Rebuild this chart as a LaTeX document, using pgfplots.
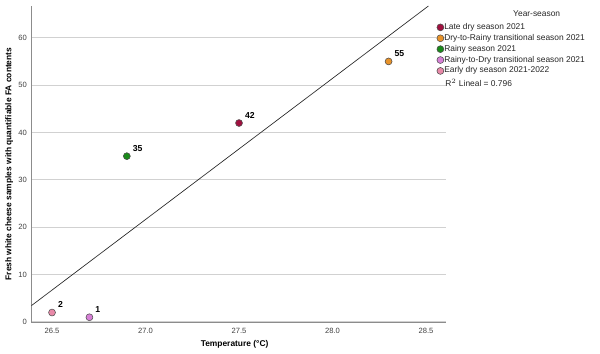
\documentclass[border=0pt]{standalone}
\usepackage{pgfplots}
\pgfplotsset{compat=1.18}
\usepackage{fontspec}
\setmainfont{Liberation Sans}
\definecolor{cLate}{HTML}{A0103F}
\definecolor{cDry}{HTML}{E8932A}
\definecolor{cRainy}{HTML}{1A8A1A}
\definecolor{cRtD}{HTML}{D680D6}
\definecolor{cEarly}{HTML}{E889A8}
\begin{document}
\begin{tikzpicture}
\begin{axis}[
  scale only axis,
  width=310.9pt, height=237pt,
  xmin=26.39, xmax=28.607,
  ymin=0, ymax=66.7,
  xtick={26.5,27.0,27.5,28.0,28.5},
  xticklabels={26.5,27.0,27.5,28.0,28.5},
  ytick={0,10,20,30,40,50,60},
  /pgf/number format/assume math mode=true,
  tick label style={font=\fontsize{5.7}{6}\selectfont, text=black!75},
  major tick length=0pt,
  axis x line*=bottom, axis y line*=left,
  axis line style={black!45, line width=0.6pt},
  ymajorgrids,
  major grid style={black!18, line width=0.8pt},
  xlabel={\textbf{Temperature (°C)}},
  ylabel={\textbf{Fresh white cheese samples with quantifiable FA contents}},
  label style={font=\fontsize{6.3}{7}\selectfont},
  x label style={at={(axis description cs:0.49,-0.072)}, anchor=center},
  y label style={at={(axis description cs:-0.054,0.5)}, anchor=center},
  xticklabel style={yshift=-1pt},
  clip=false,
  legend style={at={(rel axis cs:1,1)}, anchor=north west, xshift=-7pt, yshift=-12.5pt,
    draw=none, fill=none, font=\fontsize{6.3}{7}\selectfont, text=black!85,
    inner sep=0pt, row sep=1.5pt,
    nodes={inner sep=0.3pt},
    /tikz/every even column/.append style={column sep=1pt}},
  legend cell align=left,
  legend image code/.code={\draw[#1] plot coordinates {(0.12cm,0cm)};},
  nodes near coords style={font=\bfseries\fontsize{6.5}{7}\selectfont, anchor=south west, xshift=1pt, yshift=0pt},
]
\addplot[only marks, mark=*, mark size=2.6pt, mark options={fill=cLate, draw=black!70, line width=0.4pt},
  nodes near coords, point meta=explicit symbolic] coordinates {(27.5,42) [42]};
\addlegendentry{Late dry season 2021}
\addplot[only marks, mark=*, mark size=2.6pt, mark options={fill=cDry, draw=black!70, line width=0.4pt},
  nodes near coords, point meta=explicit symbolic] coordinates {(28.3,55) [55]};
\addlegendentry{Dry-to-Rainy transitional season 2021}
\addplot[only marks, mark=*, mark size=2.6pt, mark options={fill=cRainy, draw=black!70, line width=0.4pt},
  nodes near coords, point meta=explicit symbolic] coordinates {(26.9,35) [35]};
\addlegendentry{Rainy season 2021}
\addplot[only marks, mark=*, mark size=2.6pt, mark options={fill=cRtD, draw=black!70, line width=0.4pt},
  nodes near coords, point meta=explicit symbolic] coordinates {(26.7,1) [1]};
\addlegendentry{Rainy-to-Dry transitional season 2021}
\addplot[only marks, mark=*, mark size=2.6pt, mark options={fill=cEarly, draw=black!70, line width=0.4pt},
  nodes near coords, point meta=explicit symbolic] coordinates {(26.5,2) [2]};
\addlegendentry{Early dry season 2021-2022}
\addplot[black!85, line width=0.5pt, forget plot] coordinates {(26.39,3.46) (28.513,66.7)};
\coordinate (BL) at (rel axis cs:0,0);
\coordinate (TR) at (rel axis cs:1,1);
\end{axis}
\node[font=\fontsize{6.3}{7}\selectfont, text=black!85] at ([xshift=68pt,yshift=-6pt]TR) {Year-season};
\node[font=\fontsize{6.3}{7}\selectfont, text=black!85, anchor=west] at ([xshift=-4pt,yshift=-57.5pt]TR) {R$^{2}$ Lineal = 0.796};
\path (BL) +(-23.6pt,-23.25pt) (TR) +(115.5pt,4.5pt);
\end{tikzpicture}
\end{document}
